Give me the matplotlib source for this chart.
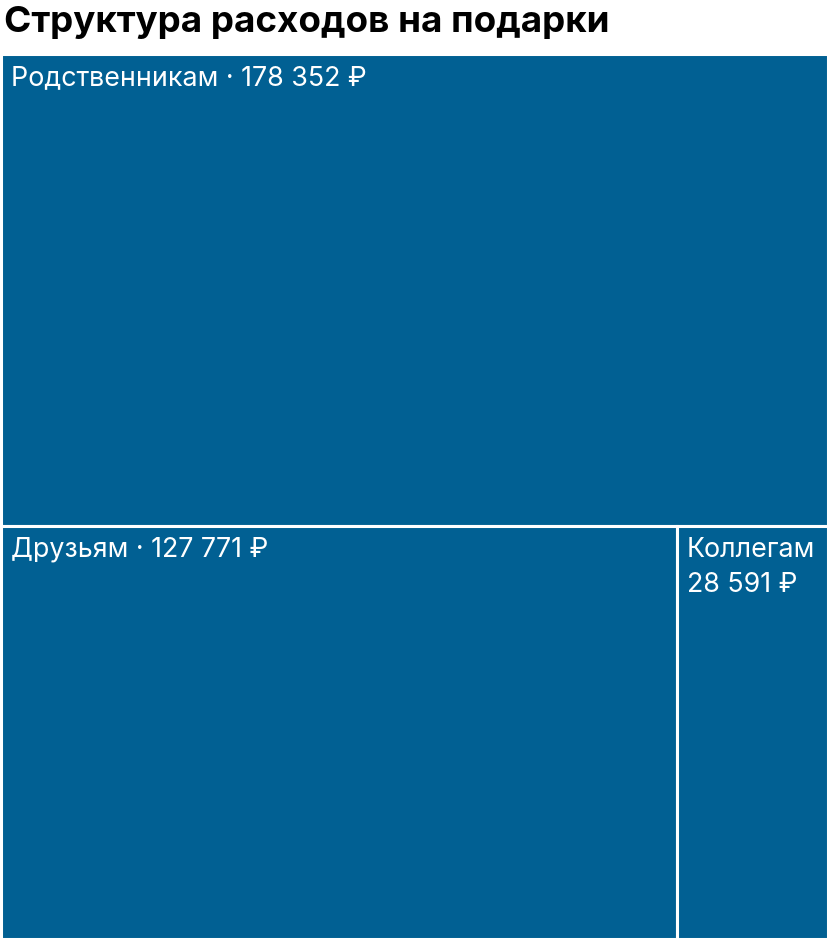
import matplotlib
matplotlib.use("Agg")
import matplotlib.pyplot as plt
from matplotlib.patches import Rectangle

plt.rcParams['font.family'] = ['Inter', 'DejaVu Sans']

title = "Структура расходов на подарки"
names = ["Родственникам", "Друзьям", "Коллегам"]
values = [178352, 127771, 28591]
labels = ["Родственникам · 178 352 ₽", "Друзьям · 127 771 ₽", "Коллегам\n28 591 ₽"]

color = "#016093"

fig = plt.figure(figsize=(8.29, 9.4), dpi=100)
W, H = 829, 940
# plot area in pixels: x 2..828, y 55..939
ax = fig.add_axes([1 / W, 1 / H, 827 / W, 885 / H])
ax.set_xlim(0, 1)
ax.set_ylim(0, 1)
ax.invert_yaxis()
ax.axis("off")

total = sum(values)
# top row: biggest item full width
h_top = values[0] / total
rest = values[1] + values[2]
w_left = values[1] / rest
rects = [
    (0, 0, 1, h_top),
    (0, h_top, w_left, 1 - h_top),
    (w_left, h_top, 1 - w_left, 1 - h_top),
]

for (x, y, w, h), lab in zip(rects, labels):
    ax.add_patch(Rectangle((x, y), w, h, facecolor=color, edgecolor="white", linewidth=2.2))
    ax.text(x + 10 / 827, y + 11 / 885, lab, color="white", fontsize=19.3,
            va="top", ha="left", linespacing=1.45)

fig.text(4 / W, 1 - 6 / H, title, fontsize=26.5, fontweight="bold", color="black",
         va="top", ha="left")

fig.savefig("out.png", dpi=100)
